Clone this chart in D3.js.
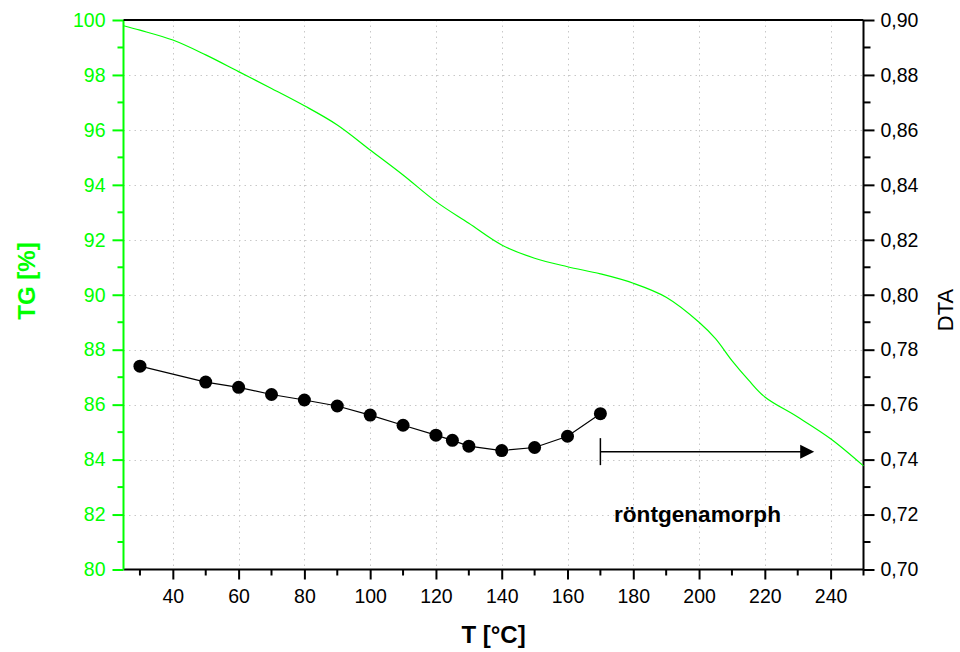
<!DOCTYPE html>
<html>
  <head>
    <meta charset="UTF-8" />
    <script src="https://d3js.org/d3.v7.min.js"></script>
    <style>
      body { margin: 0; background: #fff; }
      text { font-family: "Liberation Sans", Arial, sans-serif; }
    </style>
  </head>
  <body>
    <svg id="chart" width="960" height="652"></svg>
    <script>
      // TG curve (temperature, mass %)
      var tgT = [25, 30, 40, 50, 60, 70, 80, 90, 100, 110, 120, 130, 140, 150, 160, 170, 180, 190, 200, 205, 210, 215, 220, 230, 240, 250];
      var tgVal = [99.79, 99.63, 99.27, 98.73, 98.12, 97.51, 96.88, 96.18, 95.27, 94.36, 93.39, 92.60, 91.81, 91.33, 91.02, 90.76, 90.42, 89.91, 89.0, 88.4, 87.6, 86.9, 86.28, 85.55, 84.76, 83.77];

      // DTA measurement points
      var dtaT = [30, 50, 60, 70, 80, 90, 100, 110, 120, 125, 130, 140, 150, 160, 170];
      var dtaVal = [0.774, 0.7682, 0.7663, 0.7637, 0.7617, 0.7595, 0.7562, 0.7525, 0.7489, 0.747, 0.7449, 0.7433, 0.7444, 0.7485, 0.7567];

      var xTicks = [40, 60, 80, 100, 120, 140, 160, 180, 200, 220, 240];
      var tgTicks = [80, 82, 84, 86, 88, 90, 92, 94, 96, 98, 100];
      var dtaTicks = [0.70, 0.72, 0.74, 0.76, 0.78, 0.80, 0.82, 0.84, 0.86, 0.88, 0.90];

      // "röntgenamorph" range arrow
      var arrowFrom = 170, arrowTo = 235, arrowLevel = 0.7429;

      var svg = d3.select("#chart");
      var pLeft = 123.5, pRight = 863.5, pTop = 20, pBottom = 569.5;
      var green = "#00ff00";

      var x = d3.scaleLinear().domain([25, 250]).range([pLeft, pRight]);
      var yTG = d3.scaleLinear().domain([80, 100]).range([pBottom, pTop]);
      var yDTA = d3.scaleLinear().domain([0.70, 0.90]).range([pBottom, pTop]);

      // grid
      var grid = svg.append("g")
        .attr("stroke", "#c8c8c8")
        .attr("stroke-width", 1)
        .attr("stroke-dasharray", "1.5,4");
      grid.selectAll(".gx").data(xTicks).enter().append("line")
        .attr("x1", d => Math.round(x(d)) + 0.5).attr("x2", d => Math.round(x(d)) + 0.5)
        .attr("y1", pTop).attr("y2", pBottom);
      grid.selectAll(".gy").data(tgTicks.slice(1, -1)).enter().append("line")
        .attr("y1", d => Math.round(yTG(d)) + 0.5).attr("y2", d => Math.round(yTG(d)) + 0.5)
        .attr("x1", pLeft).attr("x2", pRight);

      // bottom axis
      var xAxis = d3.axisBottom(x)
        .tickValues(xTicks)
        .tickSize(10).tickPadding(10);
      var gx = svg.append("g").attr("transform", "translate(0," + pBottom + ")").call(xAxis);
      gx.selectAll(".minor").data(d3.range(30, 251, 20)).enter().append("line")
        .attr("x1", d => x(d)).attr("x2", d => x(d)).attr("y1", 0).attr("y2", 6)
        .attr("stroke", "#000").attr("stroke-width", 2);

      // left axis
      var yAxisL = d3.axisLeft(yTG).tickValues(tgTicks).tickSize(11).tickPadding(7);
      var gl = svg.append("g").attr("transform", "translate(" + pLeft + ",0)").call(yAxisL);
      gl.selectAll(".minor").data(d3.range(81, 100, 2)).enter().append("line")
        .attr("y1", d => yTG(d)).attr("y2", d => yTG(d)).attr("x1", 0).attr("x2", -6)
        .attr("stroke", green).attr("stroke-width", 2);

      // right axis
      var fmt = d3.format(".2f");
      var yAxisR = d3.axisRight(yDTA).tickValues(dtaTicks)
        .tickFormat(d => fmt(d).replace(".", ","))
        .tickSize(11).tickPadding(6);
      var gr = svg.append("g").attr("transform", "translate(" + pRight + ",0)").call(yAxisR);
      gr.selectAll(".minor").data(d3.range(0.71, 0.9, 0.02)).enter().append("line")
        .attr("y1", d => yDTA(d)).attr("y2", d => yDTA(d)).attr("x1", 0).attr("x2", 7)
        .attr("stroke", "#000").attr("stroke-width", 2);

      [gx, gl, gr].forEach(function (g) {
        g.selectAll("path.domain").attr("stroke-width", 2);
        g.selectAll(".tick line").attr("stroke-width", 2);
        g.selectAll(".tick text").attr("font-size", 19.5).attr("font-family", "Liberation Sans, Arial, sans-serif");
      });
      gx.select("path.domain").attr("d", "M" + pLeft + ",0H" + pRight);
      gr.select("path.domain").attr("d", "M0," + pTop + "V" + pBottom);
      gl.select("path.domain").attr("d", "M0," + pTop + "V" + pBottom).attr("stroke", green);
      gl.selectAll(".tick line").attr("stroke", green);
      gl.selectAll(".tick text").attr("fill", green);

      // top frame
      svg.append("line").attr("x1", pLeft).attr("x2", pRight).attr("y1", pTop).attr("y2", pTop)
        .attr("stroke", "#000").attr("stroke-width", 2);

      // TG line
      var tgData = tgT.map((t, i) => [t, tgVal[i]]);
      svg.append("path")
        .datum(tgData)
        .attr("fill", "none")
        .attr("stroke", green)
        .attr("stroke-width", 1.2)
        .attr("d", d3.line().x(d => x(d[0])).y(d => yTG(d[1])).curve(d3.curveCatmullRom.alpha(0.5)));

      // DTA points
      var dtaData = dtaT.map((t, i) => [t, dtaVal[i]]);
      svg.append("path")
        .datum(dtaData)
        .attr("fill", "none")
        .attr("stroke", "#000")
        .attr("stroke-width", 1.2)
        .attr("d", d3.line().x(d => x(d[0])).y(d => yDTA(d[1])));
      svg.selectAll(".dot").data(dtaData).enter().append("circle")
        .attr("cx", d => x(d[0])).attr("cy", d => yDTA(d[1])).attr("r", 6.5)
        .attr("fill", "#000");

      // range arrow
      var ay = yDTA(arrowLevel);
      svg.append("line").attr("x1", x(arrowFrom)).attr("x2", x(arrowFrom))
        .attr("y1", ay - 13.5).attr("y2", ay + 13.5).attr("stroke", "#000").attr("stroke-width", 1.5);
      svg.append("line").attr("x1", x(arrowFrom)).attr("x2", x(arrowTo) - 12)
        .attr("y1", ay).attr("y2", ay).attr("stroke", "#000").attr("stroke-width", 1.5);
      svg.append("path")
        .attr("d", "M" + x(arrowTo) + "," + ay + "l-14,-7v14z")
        .attr("fill", "#000");

      svg.append("text")
        .attr("x", 614).attr("y", 522)
        .attr("font-size", 22.6).attr("font-weight", "bold")
        .text("röntgenamorph");

      // axis titles
      svg.append("text")
        .attr("x", (pLeft + pRight) / 2).attr("y", 643)
        .attr("text-anchor", "middle")
        .attr("font-size", 24).attr("font-weight", "bold")
        .text("T [°C]");

      svg.append("text")
        .attr("transform", "translate(35,281) rotate(-90)")
        .attr("text-anchor", "middle")
        .attr("font-size", 24).attr("font-weight", "bold")
        .attr("fill", green)
        .text("TG [%]");

      svg.append("text")
        .attr("transform", "translate(953,310) rotate(-90)")
        .attr("text-anchor", "middle")
        .attr("font-size", 22)
        .text("DTA");
    </script>
  </body>
</html>
